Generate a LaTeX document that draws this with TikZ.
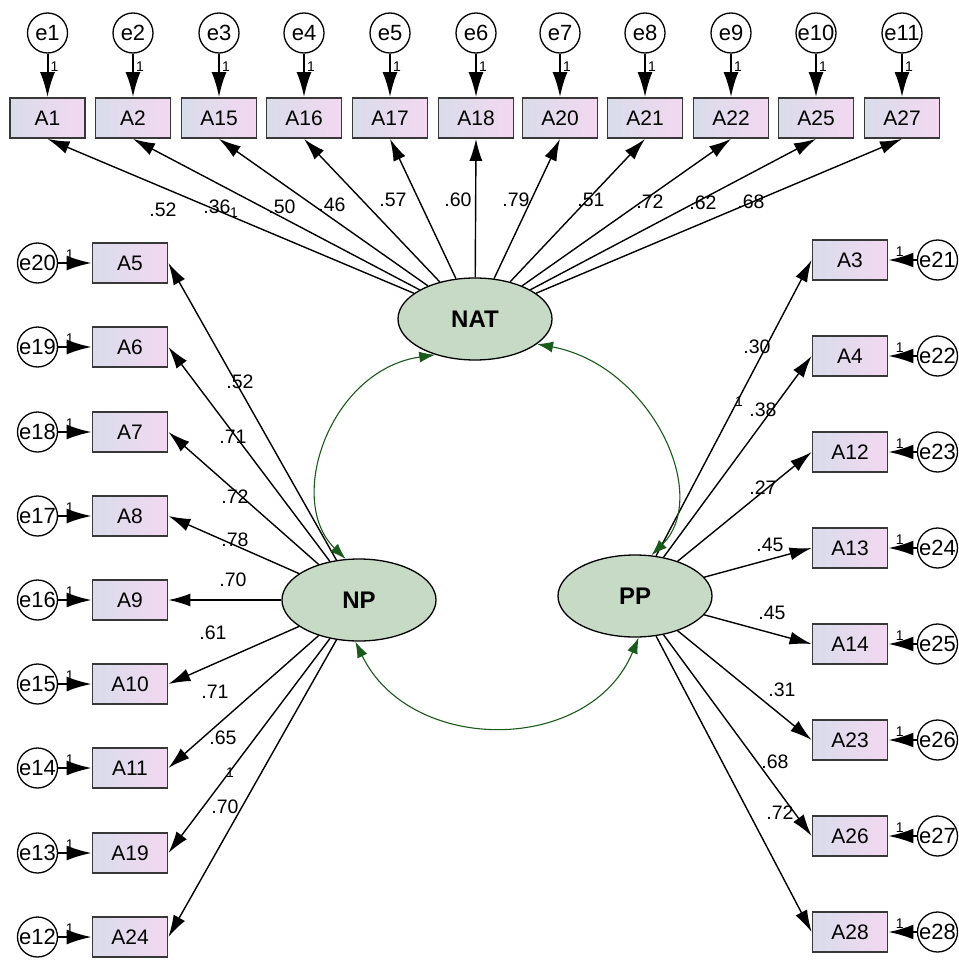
\documentclass[tikz,border=0pt]{standalone}
\usepackage{fontspec}
\setmainfont{Liberation Sans}
\usetikzlibrary{arrows.meta,shapes.geometric}
\definecolor{boxleft}{HTML}{D9DCEA}
\definecolor{boxright}{HTML}{F3D8F1}
\definecolor{latfill}{HTML}{C6DAC5}
\definecolor{covgreen}{HTML}{1A5A1A}
\definecolor{edgegray}{HTML}{383838}
\tikzset{
  obs/.style={rectangle, draw=edgegray, line width=1.8pt, left color=boxleft, right color=boxright,
    minimum width=75pt, minimum height=40pt, inner sep=0pt, font=\fontsize{21}{21}\selectfont},
  err/.style={circle, draw=black, line width=1.3pt, fill=white, minimum size=40pt, inner sep=0pt,
    font=\fontsize{22}{22}\selectfont},
  lat/.style={ellipse, draw=black, line width=1.3pt, fill=latfill, minimum width=154pt,
    minimum height=82pt, inner sep=0pt, font=\bfseries\fontsize{24}{24}\selectfont},
  load/.style={-{Latex[length=22pt,width=13pt]}, line width=1.4pt},
  errarrow/.style={-{Latex[length=25pt,width=15pt]}, line width=2pt},
  cov/.style={{Latex[length=16pt,width=11pt]}-{Latex[length=16pt,width=11pt]}, draw=covgreen, line width=1.1pt},
  coef/.style={font=\fontsize{19.5}{19.5}\selectfont, inner sep=0pt},
  one/.style={font=\fontsize{14}{14}\selectfont, inner sep=1pt},
}
\begin{document}
\begin{tikzpicture}[x=1pt,y=-1pt]
\useasboundingbox (0,0) rectangle (958,960);
\clip (0,0) rectangle (958,960);
\fill[white] (0,0) rectangle (958,960);

% latent factors
\node[lat] (NAT) at (475,319) {NAT};
\node[lat] (NP) at (359,600) {NP};
\node[lat] (PP) at (635,596) {PP};

% NAT indicators along the top
\foreach \n/\x/\e in {A1/47.5/1, A2/133/2, A15/219/3, A16/304/4, A17/390/5, A18/476/6,
                      A20/560/7, A21/645/8, A22/731/9, A25/816/10, A27/902/11} {
  \node[obs] (\n) at (\x,118) {\n};
  \node[err] (e\e) at (\x,33) {e\e};
  \draw[errarrow] (e\e) -- (\n) node[pos=0.3, right=1pt, one] {1};
  \draw[load] (NAT) -- (\n.south);
}

% NP indicators on the left
\foreach \n/\y/\e in {A5/263/20, A6/347/19, A7/432/18, A8/516/17, A9/600/16,
                      A10/684/15, A11/768/14, A19/853/13, A24/937/12} {
  \node[obs] (\n) at (130,\y) {\n};
  \node[err] (e\e) at (37.5,\y) {e\e};
  \draw[errarrow] (e\e) -- (\n) node[pos=0.35, above=2pt, one] {1};
  \draw[load] (NP) -- (\n.east);
}

% PP indicators on the right
\foreach \n/\y/\e in {A3/260/21, A4/356/22, A12/452/23, A13/548/24,
                      A14/644/25, A23/740/26, A26/836/27, A28/932/28} {
  \node[obs] (\n) at (850,\y) {\n};
  \node[err] (e\e) at (937.5,\y) {e\e};
  \draw[errarrow] (e\e) -- (\n) node[pos=0.6, above=2pt, one] {1};
  \draw[load] (PP) -- (\n.west);
}

% covariances between factors
\draw[cov] (NAT.222) .. controls (330,370) and (285,500) .. (NP.108);
\draw[cov] (NAT.-22) .. controls (650,365) and (712,495) .. (PP.68);
\draw[cov] (NP.-95) .. controls (410,755) and (590,755) .. (PP.-85);

% standardized loadings
\foreach \x/\y/\t [count=\i] in {163/210/.52, 217/207/.36, 282/207/.50, 332/205/.46, 393/200/.57,
    458/200/.60, 516/200/.79, 591/200/.51, 650/202/.72, 703/203/.62, 751/202/.68,
    240/382/.52, 233/437/.71, 235/497/.72, 235/540/.78, 233/580/.70, 213/633/.61,
    215/692/.71, 223/738/.65, 225/807/.70,
    757/347/.30, 763/410/.38, 763/488/.27, 770/545/.45, 772/613/.45, 782/690/.31,
    775/762/.68, 780/813/.72} {
  \node[coef] (c\i) at (\x,\y) {\t};
}
% fixed paths
\node[one] (f1) at (234,213) {1};
\node[one] (f2) at (230,773) {1};
\node[one] (f3) at (739,402) {1};
\end{tikzpicture}
\end{document}
